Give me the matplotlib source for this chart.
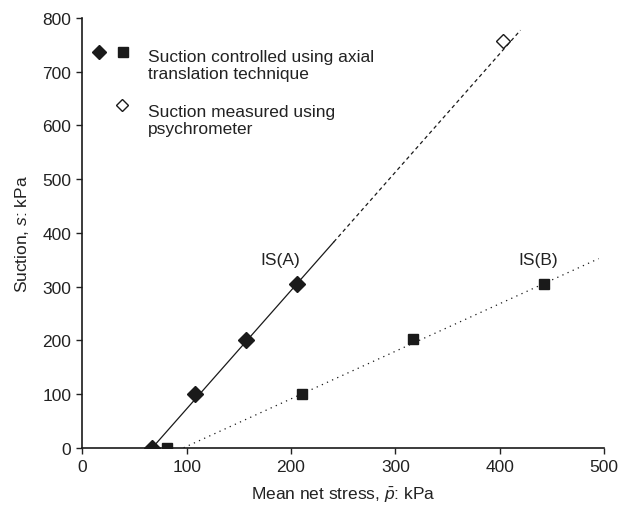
"""Isotropic states IS(A) and IS(B): suction against mean net stress."""

import matplotlib

matplotlib.use("Agg")
import matplotlib.pyplot as plt

plt.rcParams.update(
    {
        "font.family": "Liberation Sans",
        "mathtext.fontset": "custom",
        "mathtext.rm": "Liberation Sans",
        "mathtext.it": "Liberation Sans:italic",
        "font.size": 12.5,
        "text.color": "#222222",
        "axes.labelcolor": "#222222",
        "xtick.color": "#222222",
        "ytick.color": "#222222",
    }
)

# IS(A): suction-controlled tests (axis translation)
isa_p = [67, 108, 157, 206]
isa_s = [0, 100, 200, 305]
# IS(B): suction-controlled tests (axis translation)
isb_p = [81, 211, 317, 443]
isb_s = [0, 100, 203, 305]
# psychrometer reading
psy_p = [403]
psy_s = [757]

# fitted lines
isa_fit_p = [67, 241]
isa_fit_s = [0, 383]
isa_ext_p = [241, 420]
isa_ext_s = [383, 777]
isb_fit_p = [97, 495]
isb_fit_s = [0, 352]

fig = plt.figure(figsize=(6.2, 5.1), dpi=100)
ax = fig.add_axes([0.133, 0.12, 0.841, 0.843])

ink = "#1a1a1a"
ax.plot(isa_fit_p, isa_fit_s, color=ink, lw=0.9)
ax.plot(isa_ext_p, isa_ext_s, color=ink, lw=0.9, dashes=(3, 2.5))
ax.plot(isb_fit_p, isb_fit_s, color=ink, lw=0.9, dashes=(1, 3.5))

ax.plot(isa_p, isa_s, "D", color=ink, ms=8, ls="none", zorder=3)
ax.plot(isb_p, isb_s, "s", color=ink, ms=7.5, ls="none", zorder=3)
ax.plot(psy_p, psy_s, "D", mfc="white", mec=ink, mew=1.0, ms=7, ls="none", zorder=3)

ax.text(190, 350, "IS(A)", ha="center", va="center")
ax.text(437, 350, "IS(B)", ha="center", va="center")

# hand-made legend
ax.plot([16], [737], "D", color=ink, ms=7, clip_on=False)
ax.plot([39], [737], "s", color=ink, ms=6.5, clip_on=False)
ax.plot([37.5], [637], "D", mfc="white", mec=ink, mew=1.0, ms=6.5, clip_on=False)
ax.text(63, 742, "Suction controlled using axial\ntranslation technique",
        ha="left", va="top", linespacing=1.15)
ax.text(63, 640, "Suction measured using\npsychrometer",
        ha="left", va="top", linespacing=1.15)

ax.set_xlim(0, 500)
ax.set_ylim(0, 800)
ax.set_xticks(range(0, 501, 100))
ax.set_yticks(range(0, 801, 100))
ax.spines["top"].set_visible(False)
ax.spines["right"].set_visible(False)
for side in ("left", "bottom"):
    ax.spines[side].set_linewidth(1.2)
    ax.spines[side].set_color(ink)
ax.tick_params(direction="out", length=4, width=1.0, pad=4)

ax.set_xlabel(r"Mean net stress, $\bar{p}$: kPa", labelpad=8)
ax.set_ylabel(r"Suction, $s$: kPa", labelpad=8)

fig.savefig("out.png", dpi=100)
